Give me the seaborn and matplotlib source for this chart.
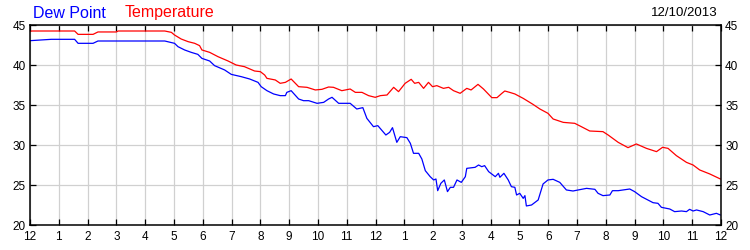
import matplotlib
matplotlib.use("Agg")
import matplotlib.pyplot as plt
import seaborn as sns
import pandas as pd

# ---- data (hours since midnight, degrees) ----
temp_hours = [0, 0.05, 1.55, 1.67, 2.19, 2.36, 3.0, 3.06, 4.68, 4.91, 5.02, 5.25, 5.49, 5.72,
              5.89, 5.97, 6.24, 6.53, 6.88, 7.16, 7.45, 7.80, 8.0, 8.15,
              8.23, 8.52, 8.69, 8.87, 9.07, 9.33, 9.62, 9.91, 10.14, 10.37, 10.54, 10.83,
              11.12, 11.3, 11.53, 11.76, 11.99, 12.17, 12.4, 12.63, 12.8, 13.03, 13.24,
              13.36, 13.5, 13.67, 13.84, 13.98, 14.13, 14.36, 14.54, 14.71, 14.94, 15.17,
              15.32, 15.56, 15.75, 16.04, 16.22, 16.39,
              16.49, 16.66, 16.84, 16.95, 17.13, 17.47, 17.71, 17.99, 18.17, 18.52, 18.92,
              19.15, 19.44, 19.9, 20.08, 20.43, 20.77, 21.06, 21.41, 21.76, 21.97, 22.16,
              22.45, 22.8, 23.03, 23.26, 23.61, 23.98]
temp_values = [44.17, 44.25, 44.25, 43.83, 43.83, 44.13, 44.13, 44.25, 44.25, 44.08, 43.75,
               43.25, 42.92, 42.71, 42.42, 41.88, 41.58, 41.04, 40.5, 40.0, 39.79, 39.25,
               39.17, 38.75,
               38.33, 38.13, 37.71, 37.83, 38.25, 37.29, 37.21, 36.88, 36.96, 37.25, 37.21,
               36.79, 37.0, 36.58, 36.58, 36.17, 35.96, 36.17, 36.25, 37.21, 36.67, 37.71,
               38.21, 37.71, 37.83, 37.08, 37.83, 37.29, 37.42, 37.08, 37.21, 36.79, 36.46,
               37.08, 36.88, 37.58, 37.0, 35.92, 35.92, 36.46,
               36.75, 36.58, 36.38, 36.17, 35.83, 35.08, 34.5, 33.96, 33.25, 32.83, 32.71,
               32.29, 31.75, 31.67, 31.25, 30.33, 29.67, 30.13, 29.58, 29.17, 29.71, 29.58,
               28.67, 27.83, 27.5, 26.88, 26.38, 25.75]

dew_hours = [0, 0.74, 1.55, 1.67, 2.19, 2.36, 4.68, 5.02, 5.14, 5.37, 5.6, 5.83, 5.97, 6.24,
             6.41, 6.76, 6.99, 7.34, 7.63, 7.92, 8.03,
             8.23, 8.46, 8.69, 8.87, 8.92, 9.07, 9.33, 9.5, 9.68, 9.97, 10.2, 10.37, 10.49,
             10.72, 11.12, 11.35, 11.56, 11.7, 11.93, 12.08, 12.36, 12.49, 12.59, 12.74,
             12.86, 13.09, 13.21, 13.32, 13.5, 13.61, 13.73, 13.9, 14.02, 14.1, 14.16,
             14.27, 14.39, 14.5, 14.6, 14.71, 14.83, 14.98, 15.12, 15.17, 15.46, 15.58,
             15.69, 15.79, 15.93, 16.16, 16.27, 16.32,
             16.46, 16.61, 16.72, 16.84, 16.9, 17.01, 17.13, 17.19, 17.24, 17.42, 17.65,
             17.82, 17.99, 18.17, 18.4, 18.63, 18.86, 19.04, 19.33, 19.62, 19.73, 19.9,
             20.14, 20.23, 20.43, 20.6, 20.83, 21.0, 21.24, 21.64, 21.81, 21.93, 22.22,
             22.39, 22.63, 22.8, 22.91, 23.03, 23.15, 23.38, 23.61, 23.84, 23.98]
dew_values = [43.04, 43.21, 43.21, 42.71, 42.71, 43.0, 43.0, 42.71, 42.29, 41.88, 41.58,
              41.33, 40.83, 40.5, 39.92, 39.38, 38.83, 38.54, 38.25, 37.83, 37.29,
              36.79, 36.38, 36.17, 36.17, 36.58, 36.79, 35.75, 35.54, 35.54, 35.21, 35.33,
              35.75, 35.96, 35.21, 35.21, 34.5, 34.67, 33.33, 32.29, 32.42, 31.25, 31.58,
              32.17, 30.33, 31.04, 30.92, 30.21, 28.96, 28.96, 28.25, 26.79, 26.04, 25.63,
              25.75, 24.29, 25.21, 25.63, 24.17, 24.71, 24.71, 25.63, 25.33, 26.04, 27.08,
              27.21, 27.5, 27.29, 27.42, 26.67, 26.04, 26.46, 25.96,
              26.46, 25.63, 24.79, 24.71, 23.75, 23.96, 23.33, 23.67, 22.38, 22.5, 23.13,
              25.13, 25.63, 25.71, 25.33, 24.38, 24.25, 24.38, 24.58, 24.46, 23.96, 23.67,
              23.75, 24.29, 24.29, 24.38, 24.5, 24.17, 23.54, 22.79, 22.71, 22.21, 22.0,
              21.67, 21.75, 21.67, 21.96, 21.75, 21.88, 21.67, 21.25, 21.46, 21.25]

tick_hours = list(range(0, 25))
tick_labels = ["12", "1", "2", "3", "4", "5", "6", "7", "8", "9", "10", "11",
               "12", "1", "2", "3", "4", "5", "6", "7", "8", "9", "10", "11", "12"]
y_ticks = [20, 25, 30, 35, 40, 45]
date_label = "12/10/2013"

# ---- style ----
sns.set_style("white")
plt.rcParams["font.family"] = ["Liberation Sans", "DejaVu Sans"]

df_temp = pd.DataFrame({"hour": temp_hours, "value": temp_values})
df_dew = pd.DataFrame({"hour": dew_hours, "value": dew_values})

fig = plt.figure(figsize=(7.5, 2.5), dpi=100)
ax = fig.add_axes([30 / 750, 25 / 250, 691 / 750, 200 / 250])

sns.lineplot(data=df_temp, x="hour", y="value", ax=ax, color="#ff0000",
             linewidth=0.9, estimator=None, sort=False)
sns.lineplot(data=df_dew, x="hour", y="value", ax=ax, color="#0000ff",
             linewidth=0.9, estimator=None, sort=False)

ax.set_xlim(0, 24)
ax.set_ylim(20, 45)
ax.set_xticks(tick_hours)
ax.set_xticklabels(tick_labels)
ax.set_yticks(y_ticks)
ax.set_xlabel("")
ax.set_ylabel("")

ax.grid(True, color="#d0d0d0", linewidth=0.9)
ax.set_axisbelow(True)
for s in ax.spines.values():
    s.set_visible(True)
    s.set_color("black")
    s.set_linewidth(1.1)

ax.tick_params(axis="both", direction="in", length=4, width=0.9, color="black",
               labelsize=8.5, labelcolor="black")
ax.tick_params(axis="x", top=True, bottom=True, pad=4.5)
ax.tick_params(axis="y", left=True, right=True, labelleft=True, labelright=True, pad=3)

fig.text(33 / 750, 1 - 13 / 250, "Dew Point", color="#0000ff", fontsize=11.5,
         va="center", ha="left")
fig.text(125 / 750, 1 - 13 / 250, "Temperature", color="#ff0000", fontsize=11.5,
         va="center", ha="left")
fig.text(718 / 750, 1 - 13 / 250, date_label, color="black", fontsize=9.5,
         va="center", ha="right")

fig.savefig("out.png", dpi=100)
